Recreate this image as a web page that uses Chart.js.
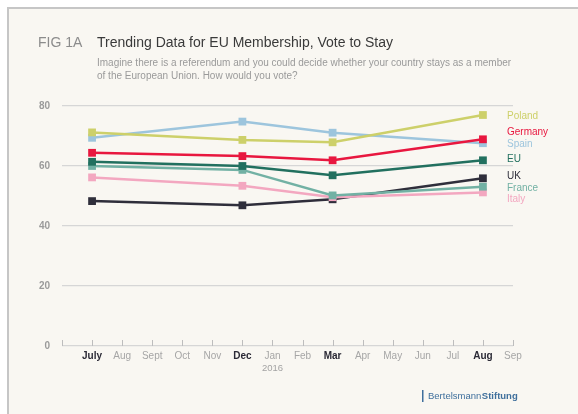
<!DOCTYPE html>
<html>
<head>
<meta charset="utf-8">
<script src="https://cdn.jsdelivr.net/npm/chart.js@4.4.1/dist/chart.umd.min.js"></script>
<style>
  html, body { margin: 0; padding: 0; background: #fff; }
  #wrap { width: 578px; height: 414px; }
</style>
</head>
<body>
<div id="wrap"><canvas id="fig1a" width="578" height="414"></canvas></div>
<script>
// month ticks, index 0 = June 2015 (no label)
const months = ['', 'July', 'Aug', 'Sept', 'Oct', 'Nov', 'Dec', 'Jan', 'Feb', 'Mar', 'Apr', 'May', 'Jun', 'Jul', 'Aug', 'Sep'];
const surveyMonths = [1, 6, 9, 14]; // July, Dec, Mar, Aug
const yTicks = [0, 20, 40, 60, 80];

const poland  = [71.2, 68.7, 67.9, 77.0];
const germany = [64.4, 63.3, 61.9, 68.9];
const eu      = [61.4, 60.0, 56.9, 61.9];
const france  = [60.0, 58.7, 50.2, 53.1];
const spain   = [69.4, 74.8, 71.1, 67.6];
const italy   = [56.2, 53.4, 49.6, 51.2];
const uk      = [48.3, 46.9, 48.9, 55.9];

const FONT = '"Liberation Sans", Arial, sans-serif';

function series(label, values, color, nudge) {
    return {
        label: label,
        data: values.map((v, i) => ({ x: surveyMonths[i], y: v })),
        borderColor: color,
        backgroundColor: color,
        borderWidth: 2.5,
        pointStyle: 'rect',
        pointRadius: 5.5,
        pointBorderWidth: 0,
        fill: false,
        tension: 0,
        nudge: nudge // legend label offset
    };
}

const datasets = [
    series('Poland', poland, '#cdd06a', 1),
    series('Germany', germany, '#e8173f', -7),
    series('EU', eu, '#22705f', -1),
    series('France', france, '#72b1a4', 2),
    series('Spain', spain, '#9dc5dd', 1),
    series('Italy', italy, '#f3a7c0', 7),
    series('UK', uk, '#2f2e3b', -2),
];

const isSurvey = c => !!(c && c.tick && surveyMonths.includes(c.tick.value));

// background, frame, titles, end labels, logo
const decor = {
    id: 'decor',
    beforeDraw(chart) {
        const ctx = chart.ctx;
        ctx.save();
        ctx.fillStyle = '#ffffff';
        ctx.fillRect(0, 0, chart.width, chart.height);
        ctx.fillStyle = '#f9f7f2';
        ctx.fillRect(8, 8, chart.width - 8, chart.height - 8);
        ctx.fillStyle = '#c6c6c6';
        ctx.fillRect(7, 7, chart.width - 7, 2);
        ctx.fillRect(7, 7, 2, chart.height - 7);
        ctx.restore();
    },
    afterDatasetsDraw(chart) {
        const ctx = chart.ctx;
        const x = chart.scales.x;
        const y = chart.scales.y;
        ctx.save();

        // tick marks pointing up from the baseline
        ctx.strokeStyle = '#bdbdbd';
        ctx.lineWidth = 1;
        const base = y.getPixelForValue(0);
        x.ticks.forEach((t, i) => {
            const px = Math.round(x.getPixelForTick(i)) + 0.5;
            ctx.beginPath();
            ctx.moveTo(px, base - 6);
            ctx.lineTo(px, base);
            ctx.stroke();
        });

        // year under Jan
        ctx.fillStyle = '#a3a3a3';
        ctx.font = '9.5px ' + FONT;
        ctx.textAlign = 'center';
        ctx.textBaseline = 'middle';
        ctx.fillText('2016', x.getPixelForValue(7), base + 22);

        // titles
        ctx.textAlign = 'left';
        ctx.font = '14px ' + FONT;
        ctx.fillStyle = '#8c8c8c';
        ctx.fillText('FIG 1A', 38, 43);
        ctx.fillStyle = '#3a3a3a';
        ctx.fillText('Trending Data for EU Membership, Vote to Stay', 97, 43);
        ctx.font = '10px ' + FONT;
        ctx.fillStyle = '#9a9a9a';
        ctx.fillText('Imagine there is a referendum and you could decide whether your country stays as a member', 97, 63);
        ctx.fillText('of the European Union. How would you vote?', 97, 76);

        // end labels
        ctx.font = '10px ' + FONT;
        chart.data.datasets.forEach(ds => {
            const last = ds.data[ds.data.length - 1];
            ctx.fillStyle = ds.borderColor;
            ctx.fillText(ds.label, 507, y.getPixelForValue(last.y) + ds.nudge);
        });

        // logo
        ctx.fillStyle = '#3f6f9c';
        ctx.fillRect(422, 390, 1.5, 12);
        ctx.font = '9.5px ' + FONT;
        ctx.fillText('Bertelsmann', 428, 396.5);
        const w = ctx.measureText('Bertelsmann').width;
        ctx.font = 'bold 9.5px ' + FONT;
        ctx.fillText('Stiftung', 428 + w + 0.5, 396.5);

        ctx.restore();
    }
};

const config = {
    type: 'line',
    data: { datasets: datasets },
    options: {
        responsive: false,
        animation: false,
        layout: { padding: { left: 32, right: 65, top: 106, bottom: 38 } },
        plugins: {
            legend: { display: false },
            tooltip: { enabled: false }
        },
        scales: {
            x: {
                type: 'linear',
                min: 0,
                max: months.length - 1,
                afterFit: s => { s.height = 30; },
                afterBuildTicks: s => { s.ticks = months.map((m, i) => ({ value: i })); },
                grid: { display: false },
                border: { display: false },
                ticks: {
                    autoSkip: false,
                    maxRotation: 0,
                    padding: -4,
                    callback: v => months[v],
                    color: c => isSurvey(c) ? '#2b2a36' : '#a6a6a6',
                    font: c => ({
                        family: FONT,
                        size: 10,
                        weight: isSurvey(c) ? 'bold' : 'normal'
                    })
                }
            },
            y: {
                min: 0,
                max: 80,
                afterFit: s => { s.width = 30; },
                afterBuildTicks: s => { s.ticks = yTicks.map(v => ({ value: v })); },
                grid: { color: '#d6d6d6', lineWidth: 1.3, drawTicks: false },
                border: { display: false },
                ticks: {
                    padding: 12,
                    color: '#9b9b9b',
                    font: { family: FONT, size: 10, weight: 'bold' }
                }
            }
        }
    },
    plugins: [decor]
};

const fig1a = new Chart(document.getElementById('fig1a'), config);
</script>
</body>
</html>
